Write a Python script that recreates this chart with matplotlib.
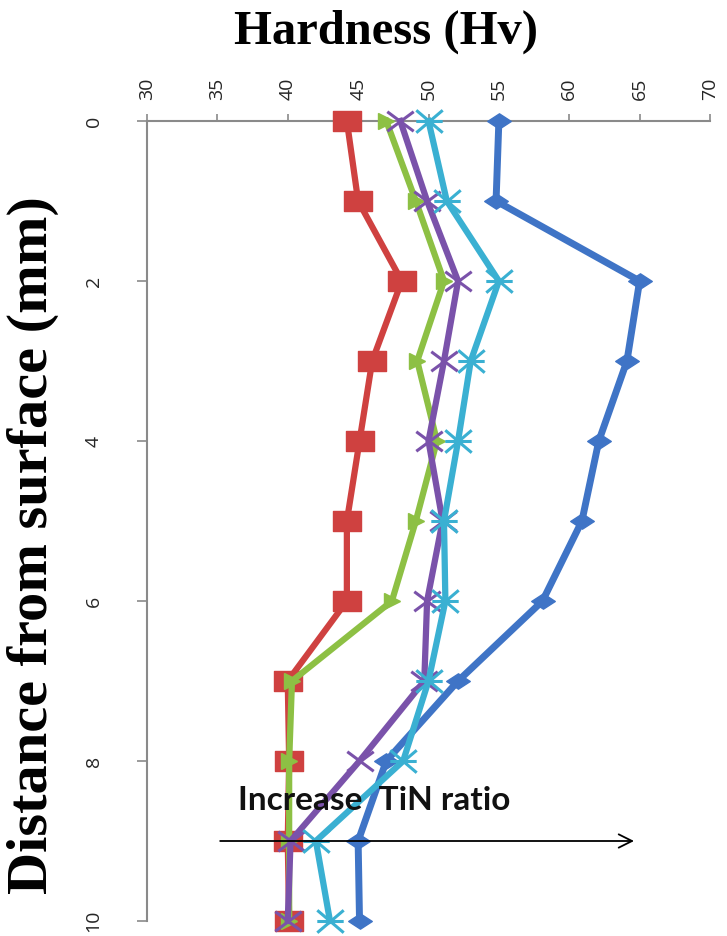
import numpy as np
import matplotlib
matplotlib.use("Agg")
from matplotlib import pyplot as plt
from matplotlib.path import Path

# distance from surface (mm) and hardness (Hv) for the five coatings
distance = [0, 1, 2, 3, 4, 5, 6, 7, 8, 9, 10]
hv_blue = [55.0, 54.8, 65.0, 64.1, 62.1, 60.9, 58.1, 52.1, 47.0, 45.0, 45.1]
hv_red = [44.2, 45.0, 48.1, 46.0, 45.1, 44.2, 44.2, 40.0, 40.1, 40.0, 40.1]
hv_green = [47.0, 49.1, 51.1, 49.2, 50.6, 49.1, 47.4, 40.3, 40.1, 40.1, 40.1]
hv_purple = [48.0, 49.9, 52.1, 51.1, 50.0, 51.0, 49.9, 49.7, 45.1, 40.2, 40.0]
hv_cyan = [50.0, 51.3, 55.0, 53.0, 52.1, 51.1, 51.2, 50.0, 48.2, 42.0, 43.0]

xticks = [30, 35, 40, 45, 50, 55, 60, 65, 70]
yticks = [0, 2, 4, 6, 8, 10]

arrow_hv = [35.0, 64.8]
arrow_d = 9
note = "Increase  TiN ratio"


def box_marker(a):
    return Path([(-1, -a), (1, -a), (1, a), (-1, a), (-1, -a)], closed=True)


def diamond_marker(a):
    return Path([(-1, 0), (0, a), (1, 0), (0, -a), (-1, 0)], closed=True)


def x_marker(a, bar=False):
    verts = [(-1, -a), (1, a), (-1, a), (1, -a)]
    codes = [Path.MOVETO, Path.LINETO, Path.MOVETO, Path.LINETO]
    if bar:
        verts += [(-1, 0), (1, 0)]
        codes += [Path.MOVETO, Path.LINETO]
    return Path(verts, codes)


fig = plt.figure(figsize=(7.27, 9.36), dpi=100)
ax = fig.add_axes([147 / 727, 1 - 921 / 936, (710 - 147) / 727, (921 - 121) / 936])

ax.plot(hv_blue, distance, color="#3F74C6", lw=5, marker=diamond_marker(0.65),
        ms=17, clip_on=False, zorder=3)
ax.plot(hv_red, distance, color="#CF4140", lw=4.5, marker=box_marker(0.75),
        ms=20, clip_on=False, zorder=4)
ax.plot(hv_green, distance, color="#8DC044", lw=4.5, marker=">",
        ms=12, clip_on=False, zorder=5)
ax.plot(hv_purple, distance, color="#7A52AA", lw=4.5, marker=x_marker(0.74),
        ms=19, mfc="none", mew=2.2, clip_on=False, zorder=6)
ax.plot(hv_cyan, distance, color="#3AB0D2", lw=4.5, marker=x_marker(0.85, bar=True),
        ms=19, mfc="none", mew=2.2, clip_on=False, zorder=7)

ax.set_xlim(30, 70)
ax.set_ylim(10, 0)
ax.xaxis.tick_top()
ax.set_xticks(xticks)
ax.set_yticks(yticks)

for s in ["right", "bottom"]:
    ax.spines[s].set_visible(False)
for s in ["top", "left"]:
    ax.spines[s].set_color("#8A8A8A")
    ax.spines[s].set_linewidth(1.5)

ax.tick_params(axis="x", direction="out", length=5, width=1.2, color="#8A8A8A",
               pad=10, labelsize=14, labelcolor="#262626", labelrotation=90)
ax.tick_params(axis="y", direction="out", length=7, width=1.2, color="#8A8A8A",
               pad=25, labelsize=14, labelcolor="#262626", labelrotation=90)
for lab in ax.get_xticklabels() + ax.get_yticklabels():
    lab.set_family("Open Sans")
for lab in ax.get_yticklabels():
    lab.set_va("center")

ax.annotate("", xy=(arrow_hv[1], arrow_d), xytext=(arrow_hv[0], arrow_d),
            arrowprops=dict(arrowstyle="->", color="black", lw=1.3, mutation_scale=24),
            annotation_clip=False, zorder=10)
ax.text(36.5, 8.5, note, family="Lato", fontweight="bold", fontsize=24,
        color="#111111", ha="left", va="center", zorder=10)

fig.text(386 / 727, 1 - 32 / 936, "Hardness (Hv)", family="Liberation Serif",
         fontweight="bold", fontsize=35, ha="center", va="center")
fig.text(33 / 727, 1 - 545 / 936, "Distance from surface (mm)", family="Liberation Serif",
         fontweight="bold", fontsize=42, rotation=90, ha="center", va="center")

fig.savefig("out.png", dpi=100)
